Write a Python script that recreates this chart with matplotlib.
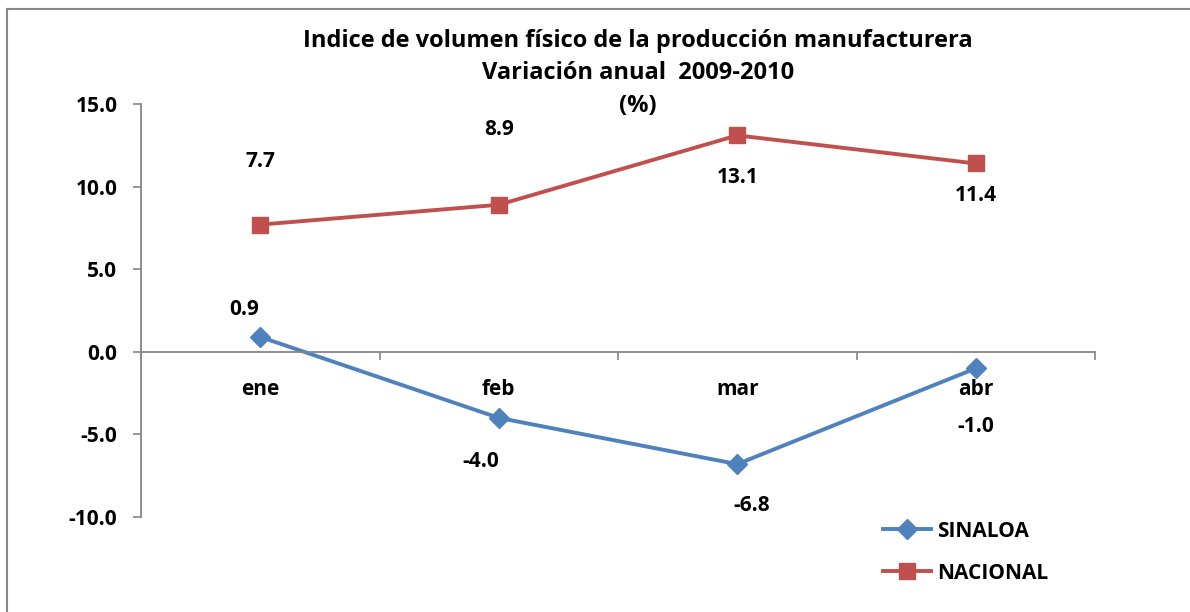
import matplotlib
matplotlib.use("Agg")
import matplotlib.pyplot as plt
from matplotlib.lines import Line2D

plt.rcParams['font.family'] = ['Open Sans', 'DejaVu Sans']
plt.rcParams['font.weight'] = 'bold'

# data
meses = ['ene', 'feb', 'mar', 'abr']
sinaloa = [0.9, -4.0, -6.8, -1.0]
nacional = [7.7, 8.9, 13.1, 11.4]

# label offsets in pixels (dx, dy) -- style only
off_sin = [(-16, 27), (-18, -44), (14, -41), (0, -58)]
off_nac = [(0, 63), (0, 75), (0, -42), (0, -32)]

azul = '#4F81BD'
rojo = '#C0504D'
gris = '#868686'
fs = 15

fig = plt.figure(figsize=(11.9, 6.12), dpi=100)
ax = fig.add_axes([141/1190, 1-517/612, (1095-141)/1190, (517-104)/612])

x = list(range(len(meses)))
ax.plot(x, sinaloa, color=azul, lw=2.8, marker='D', ms=10, label='SINALOA')
ax.plot(x, nacional, color=rojo, lw=2.8, marker='s', ms=11, label='NACIONAL')

for i, v in enumerate(sinaloa):
    ax.annotate(f'{v:.1f}', (x[i], v), xytext=off_sin[i], textcoords='offset pixels',
                ha='center', va='center', fontsize=fs, fontweight='bold')
for i, v in enumerate(nacional):
    ax.annotate(f'{v:.1f}', (x[i], v), xytext=off_nac[i], textcoords='offset pixels',
                ha='center', va='center', fontsize=fs, fontweight='bold')

ax.set_xlim(-0.5, len(meses) - 0.5)
ax.set_ylim(-10, 15)
ax.set_yticks([-10, -5, 0, 5, 10, 15])
ax.set_yticklabels([f'{t:.1f}' for t in [-10, -5, 0, 5, 10, 15]])
ax.tick_params(axis='y', direction='out', length=6, width=1.2, color=gris,
               labelsize=fs, pad=11)

# category axis on zero line
for s in ['top', 'right']:
    ax.spines[s].set_visible(False)
ax.spines['bottom'].set_position(('data', 0))
ax.spines['bottom'].set_color(gris)
ax.spines['bottom'].set_linewidth(1.3)
ax.spines['left'].set_color(gris)
ax.spines['left'].set_linewidth(1.3)
ax.set_xticks([i + 0.5 for i in range(-1, len(meses))])
ax.set_xticklabels([])
ax.tick_params(axis='x', direction='out', length=6, width=1.2, color=gris)
for i, m in enumerate(meses):
    ax.text(x[i], -2.3, m, ha='center', va='center', fontsize=fs, fontweight='bold')

fig.text(638/1190, 1-41/612, 'Indice de volumen físico de la producción manufacturera',
         ha='center', va='center', fontsize=17, fontweight='bold')
fig.text(638/1190, 1-73/612, 'Variación anual  2009-2010',
         ha='center', va='center', fontsize=17, fontweight='bold')
fig.text(638/1190, 1-106/612, '(%)',
         ha='center', va='center', fontsize=17, fontweight='bold')

leg = ax.legend(loc='upper left', bbox_to_anchor=(864/1190, 1-502/612),
                bbox_transform=fig.transFigure, frameon=False, fontsize=fs,
                handlelength=2.3, handletextpad=0.3, labelspacing=1.0)

# outer chart frame
fig.add_artist(Line2D([7/1190, 7/1190], [0, 1-9/612], color=gris, lw=1.5,
                      transform=fig.transFigure))
fig.add_artist(Line2D([7/1190, 1], [1-9/612, 1-9/612], color=gris, lw=1.5,
                      transform=fig.transFigure))

fig.savefig('out.png', dpi=100)
